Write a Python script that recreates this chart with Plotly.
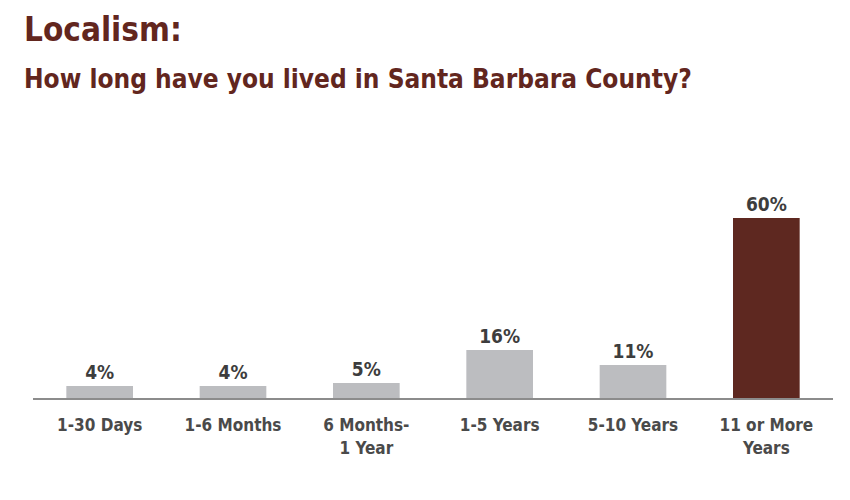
import plotly.graph_objects as go

# survey answers, share of respondents in percent
categories = ["1-30 Days", "1-6 Months", "6 Months-<br>1 Year", "1-5 Years", "5-10 Years", "11 or More<br>Years"]
shares = [4, 4, 5, 16, 11, 60]

GRAY = "#bcbdc0"
MAROON = "#5e2820"
TITLE_COLOR = "#62261e"
FONT = "DejaVu Sans Condensed, Liberation Sans Narrow, Arial Narrow, sans-serif"

colors = [GRAY] * (len(shares) - 1) + [MAROON]

fig = go.Figure()
fig.add_trace(go.Bar(
    x=categories,
    y=shares,
    marker=dict(color=colors, line=dict(width=0)),
    texttemplate="<b>%{y}%</b>",
    textposition="outside",
    textfont=dict(family=FONT, size=19, color="#3d3d3d"),
    cliponaxis=False,
    hoverinfo="skip",
))

fig.add_annotation(text="<b>Localism:</b>", xref="paper", yref="paper",
                   x=-0.014, y=1.673, xanchor="left", yanchor="middle",
                   showarrow=False, font=dict(family=FONT, size=33, color=TITLE_COLOR))
fig.add_annotation(text="<b>How long have you lived in Santa Barbara County?</b>", xref="paper", yref="paper",
                   x=-0.014, y=1.45, xanchor="left", yanchor="middle",
                   showarrow=False, font=dict(family=FONT, size=26, color=TITLE_COLOR))

fig.update_layout(
    width=850, height=500,
    margin=dict(l=25, r=25, t=170, b=110),
    paper_bgcolor="white", plot_bgcolor="white",
    bargap=0.5,
    showlegend=False,
    xaxis=dict(
        range=[-0.5, 5.5],
        showline=True, linecolor="#8c8c8c", linewidth=2,
        showgrid=False, zeroline=False, ticks="",
        ticklabelstandoff=11,
        tickfont=dict(family=FONT, size=17, color="#4a4a4a"),
        tickprefix="<b>", ticksuffix="</b>",
        fixedrange=True,
    ),
    yaxis=dict(
        range=[0, 73.33],
        visible=False, showgrid=False, zeroline=False,
        fixedrange=True,
    ),
)

fig.write_html("out.html")
